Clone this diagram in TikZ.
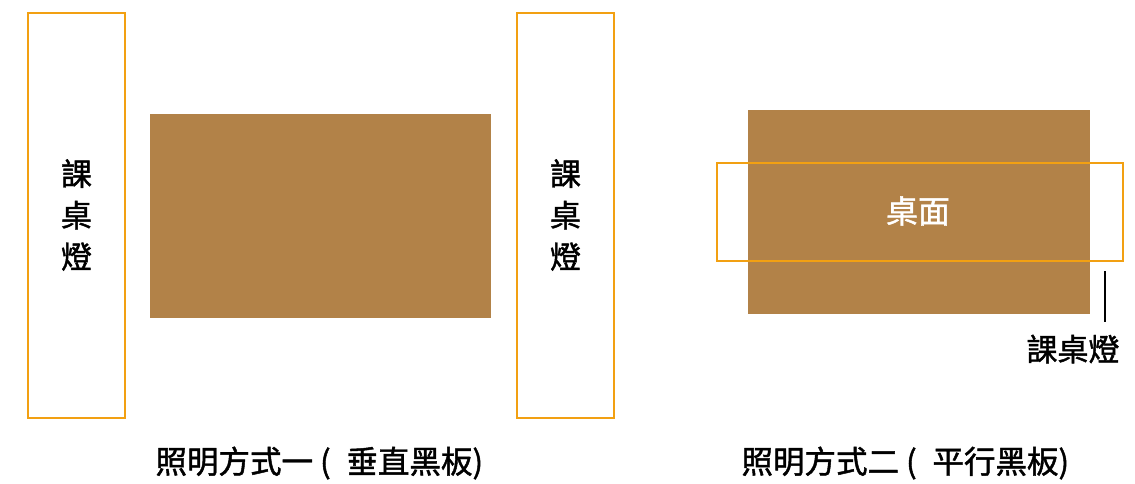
\documentclass[tikz,border=0pt]{standalone}
\usepackage{fontspec}
\setmainfont{Noto Sans CJK TC}
\newfontfamily\cjk[FakeBold=1.4]{Noto Sans CJK TC}
\definecolor{lamporange}{HTML}{F2A012}
\definecolor{deskbrown}{HTML}{B28248}
\begin{document}
\begin{tikzpicture}[x=1pt,y=-1pt,
  lampbox/.style={draw=lamporange,line width=2.6pt,inner sep=0pt},
  desk/.style={fill=deskbrown,draw=none},
  vlabel/.style={font=\cjk\fontsize{31}{41.5}\selectfont,align=center},
  caption/.style={font=\cjk\fontsize{31.5}{34}\selectfont,anchor=west}]
\useasboundingbox (0,0) rectangle (1135,483);
% desks
\fill[desk] (150,114) rectangle (491,318);
\fill[desk] (748,110) rectangle (1090,314);
% vertical lamps
\draw[lampbox] (28,13) rectangle (125,418);
\draw[lampbox] (517,13) rectangle (614,418);
\node[vlabel] (l1) at (76.5,215) {課\\桌\\燈};
\node[vlabel] (l2) at (565.5,215) {課\\桌\\燈};
% horizontal lamp
\draw[lampbox] (717,163) rectangle (1123,261);
\node[font=\cjk\fontsize{32}{34}\selectfont,text=white] (top) at (918,211) {桌面};
\coordinate (lineTop) at (1105,271);
\node[font=\cjk\fontsize{31}{34}\selectfont] (l3) at (1073,349) {課桌燈};
\draw[line width=1.4pt] (lineTop) -- (1105,322);
% captions
\node[caption] (c1) at (152,463) {照明方式一 (\hspace{0.5em}垂直黑板)};
\node[caption] (c2) at (738,463) {照明方式二 (\hspace{0.5em}平行黑板)};
\end{tikzpicture}
\end{document}
